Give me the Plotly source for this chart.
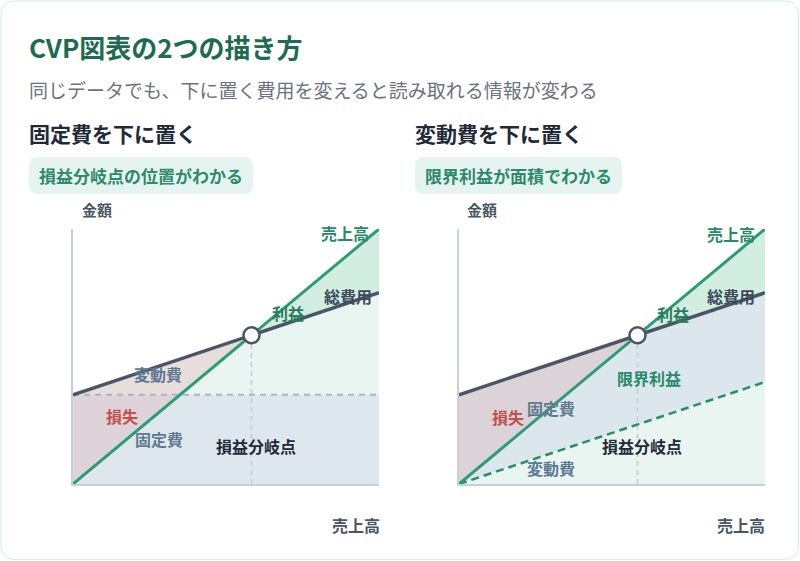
import plotly.graph_objects as go

# ---- data ----
volume = [0, 100]            # sales volume (x)
sales = [0, 100]             # sales revenue
fixed_cost = 35              # fixed cost
var_rate = 0.4               # variable cost ratio
axis_labels = ["金額", "売上高"]

W, H = 800, 561
FONT = "Noto Sans CJK JP"

total_cost = [fixed_cost + var_rate * v for v in volume]
var_cost = [var_rate * v for v in volume]
bep = fixed_cost / (1 - var_rate)
x0, x1 = volume
s0, s1 = sales

def px(x):
    return x / W

def py(y):
    return 1 - y / H

C_SALES = "#2f9a77"
C_TOTAL = "#4a5567"
C_FIXED_LINE = "#a9b6c4"
C_VLINE = "#c3ccd6"
C_FIXED_FILL = "#dfe7ee"
C_FIXED_FILL_R = "#dbe7ec"
C_VAR_FILL = "#e9f5f0"
C_PROFIT = "#d2eee1"
C_LOSS = "rgba(228,110,120,0.17)"

fig = go.Figure()

def poly(xs, ys, color, ax):
    fig.add_trace(go.Scatter(x=xs, y=ys, fill="toself", fillcolor=color, mode="none",
                             hoverinfo="skip", showlegend=False, xaxis=ax[0], yaxis=ax[1]))

def line(xs, ys, color, width, dash=None, ax=("x", "y")):
    fig.add_trace(go.Scatter(x=xs, y=ys, mode="lines", line=dict(color=color, width=width, dash=dash),
                             hoverinfo="skip", showlegend=False, xaxis=ax[0], yaxis=ax[1]))

# ---- left panel: fixed cost at bottom ----
L = ("x", "y")
poly([x0, x1, x1, x0], [0, 0, fixed_cost, fixed_cost], C_FIXED_FILL, L)
poly([x0, x1, x1], [fixed_cost, fixed_cost, total_cost[1]], C_VAR_FILL, L)
poly([x0, bep, x0], [s0, bep, total_cost[0]], C_LOSS, L)
poly([bep, x1, x1], [bep, s1, total_cost[1]], C_PROFIT, L)
line([x0, x1], [fixed_cost, fixed_cost], C_FIXED_LINE, 2, "6px,5px", L)
line([bep, bep], [0, bep], C_VLINE, 1.5, "5px,4px", L)
line(volume, total_cost, C_TOTAL, 3.5, None, L)
line(volume, sales, C_SALES, 3, None, L)
fig.add_trace(go.Scatter(x=[bep], y=[bep], mode="markers",
                         marker=dict(size=16, color="white", line=dict(color=C_TOTAL, width=2.5)),
                         hoverinfo="skip", showlegend=False, xaxis="x", yaxis="y"))

# ---- right panel: variable cost at bottom ----
R = ("x2", "y2")
poly([x0, x1, x1], [0, 0, var_cost[1]], C_VAR_FILL, R)
poly([x0, x1, x1, x0], [var_cost[0], var_cost[1], total_cost[1], total_cost[0]], C_FIXED_FILL_R, R)
poly([x0, bep, x0], [s0, bep, total_cost[0]], C_LOSS, R)
poly([bep, x1, x1], [bep, s1, total_cost[1]], C_PROFIT, R)
line([bep, bep], [0, bep], C_VLINE, 1.5, "5px,4px", R)
line(volume, var_cost, "#2e8a69", 2.5, "8px,5px", R)
line(volume, total_cost, C_TOTAL, 3.5, None, R)
line(volume, sales, C_SALES, 3, None, R)
fig.add_trace(go.Scatter(x=[bep], y=[bep], mode="markers",
                         marker=dict(size=16, color="white", line=dict(color=C_TOTAL, width=2.5)),
                         hoverinfo="skip", showlegend=False, xaxis="x2", yaxis="y2"))

ax_common = dict(showgrid=False, zeroline=False, showticklabels=False, ticks="",
                 showline=True, linecolor="#c7d0da", linewidth=1.5, fixedrange=True)
ydom = [py(484), py(229)]
fig.update_layout(
    width=W, height=H, margin=dict(l=0, r=0, t=0, b=0),
    paper_bgcolor="white", plot_bgcolor="rgba(0,0,0,0)",
    font=dict(family=FONT),
    xaxis=dict(domain=[px(73), px(379)], range=[0, 100], **ax_common),
    yaxis=dict(domain=ydom, range=[0, 100], **ax_common),
    xaxis2=dict(domain=[px(459), px(765)], range=[0, 100], anchor="y2", **ax_common),
    yaxis2=dict(domain=ydom, range=[0, 100], anchor="x2", **ax_common),
)

# ---- card & badges ----
def rrect(xa, ya, xb, yb, r, fill, line_color=None):
    p = (f"M {px(xa + r)} {py(ya)} L {px(xb - r)} {py(ya)} Q {px(xb)} {py(ya)} {px(xb)} {py(ya + r)} "
         f"L {px(xb)} {py(yb - r)} Q {px(xb)} {py(yb)} {px(xb - r)} {py(yb)} "
         f"L {px(xa + r)} {py(yb)} Q {px(xa)} {py(yb)} {px(xa)} {py(yb - r)} "
         f"L {px(xa)} {py(ya + r)} Q {px(xa)} {py(ya)} {px(xa + r)} {py(ya)} Z")
    fig.add_shape(type="path", path=p, xref="paper", yref="paper", fillcolor=fill,
                  line=dict(color=line_color or fill, width=1 if line_color else 0), layer="below")

rrect(1, 1, 798.5, 559.5, 14, "white", "#d9e9e3")
rrect(29, 157, 253, 194, 9, "#e5f4ef")
rrect(415, 157, 622, 194, 9, "#e5f4ef")

def txt(s, x, y, size, color, bold=True, anchor="center"):
    fig.add_annotation(text=f"<b>{s}</b>" if bold else s, x=px(x), y=py(y), xref="paper", yref="paper",
                       showarrow=False, xanchor=anchor, yanchor="middle",
                       font=dict(family=FONT, size=size, color=color))

txt("CVP図表の2つの描き方", 27, 47, 26, "#1e6b52", anchor="left")
txt("同じデータでも、下に置く費用を変えると読み取れる情報が変わる", 27, 89, 19, "#6b7280", bold=False, anchor="left")
txt("固定費を下に置く", 27, 133, 21, "#1f2937", anchor="left")
txt("変動費を下に置く", 413, 133, 21, "#1f2937", anchor="left")
txt("損益分岐点の位置がわかる", 141, 175, 17, "#2e8a6c")
txt("限界利益が面積でわかる", 518, 175, 17, "#2e8a6c")

# axis titles
txt(axis_labels[0], 97, 209, 15, "#4b5563")
txt(axis_labels[0], 482, 209, 15, "#4b5563")
txt(axis_labels[1], 356, 525, 16, "#4b5563")
txt(axis_labels[1], 741, 525, 16, "#4b5563")

# left panel labels
txt("売上高", 345, 233, 16, "#2a8a68")
txt("総費用", 348, 296, 16, "#3d4a5c")
txt("利益", 288, 313, 16, "#2a7a5c")
txt("変動費", 158, 374, 16, "#5f7a90")
txt("損失", 122, 416, 16, "#c0504d")
txt("固定費", 159, 439, 16, "#5f7a90")
txt("損益分岐点", 256, 446, 16, "#1f2937")

# right panel labels
txt("売上高", 731, 234, 16, "#2a8a68")
txt("総費用", 731, 296, 16, "#3d4a5c")
txt("利益", 673, 314, 16, "#2a7a5c")
txt("限界利益", 649, 378, 16, "#2a8a68")
txt("固定費", 551, 408, 16, "#5f7a90")
txt("損失", 508, 417, 16, "#c0504d")
txt("損益分岐点", 642, 446, 16, "#1f2937")
txt("変動費", 551, 468, 16, "#5f7a90")

fig.write_html("out.html", config={"displayModeBar": False},
               post_script="document.body.style.margin='0';document.body.style.overflow='hidden';")
